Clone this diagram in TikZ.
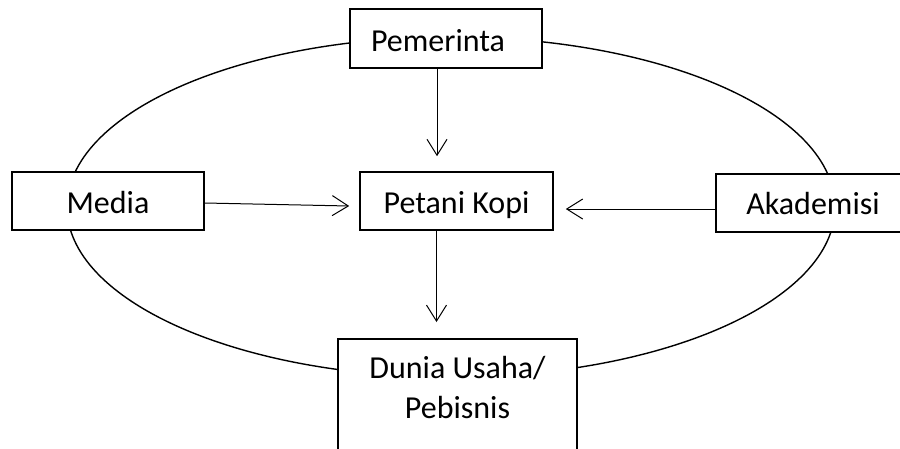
\documentclass[tikz,border=0pt]{standalone}
\usepackage{fontspec}
\setmainfont{Carlito}
\usetikzlibrary{arrows.meta}
\begin{document}
\begin{tikzpicture}[x=1pt,y=-1pt,
  boxnode/.style={draw=black, line width=1.6pt, fill=white, rectangle, inner sep=0pt,
    font=\fontsize{32}{40}\selectfont, text height=24pt, text depth=0pt},
  arr/.style={line width=1pt, -{Straight Barb[length=16pt,width=20pt,line width=1pt]}},
  ring/.style={line width=1.4pt}]
\useasboundingbox (0,0) rectangle (900,448);
\draw[ring] (451,207) ellipse [x radius=384, y radius=170];
\node[boxnode, minimum width=192pt, minimum height=59pt, text height=25pt] (pem) at (446,38.5) {Pemerinta\kern16pt};
\node[boxnode, minimum width=192pt, minimum height=58pt] (media) at (108,201) {Media};
\node[boxnode, minimum width=194pt, minimum height=58pt, text height=22pt] (akad) at (813,203) {Akademisi};
\node[boxnode, minimum width=193pt, minimum height=58pt] (petani) at (456.5,201) {Petani Kopi};
\node[boxnode, anchor=north, text height=, text depth=] (dunia) at (457.5,338)
  {\parbox[c][125pt][t]{239pt}{\centering\rule{0pt}{40pt}Dunia Usaha/\\Pebisnis\par}};
\draw[arr, shorten >=15pt] ([xshift=-9pt]pem.south) -- ([xshift=-9pt]pem.south |- petani.north);
\draw[arr, shorten >=16pt] ([xshift=-20pt]petani.south) -- ([xshift=-20pt]petani.south |- dunia.north);
\draw[arr] ([yshift=-2pt]media.east) -- ([xshift=-10pt,yshift=-5pt]petani.west);
\draw[arr] ([yshift=-6pt]akad.west) -- ([xshift=12pt,yshift=-8pt]petani.east);
\end{tikzpicture}
\end{document}
